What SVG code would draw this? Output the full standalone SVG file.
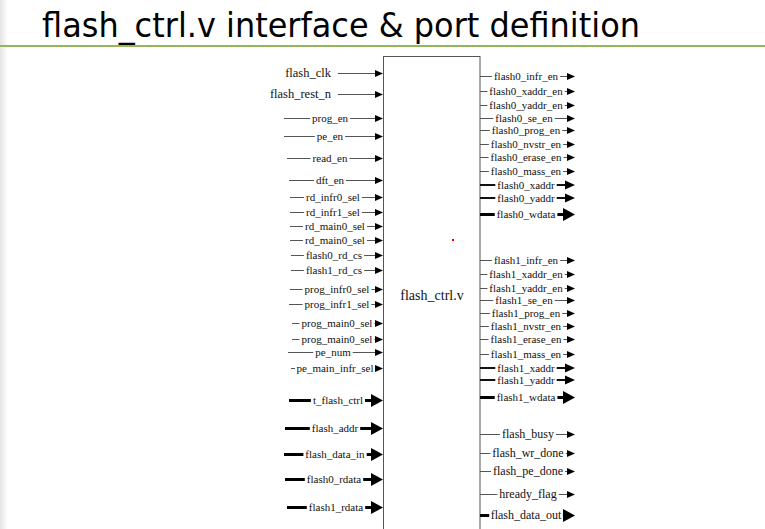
<svg xmlns="http://www.w3.org/2000/svg" width="765" height="529" viewBox="0 0 765 529">
<style>
.t{font-family:'Liberation Serif','Times New Roman',serif;font-size:11px;fill:#111;text-anchor:middle}
.tb{font-size:12px}
.tl{font-family:'Liberation Serif','Times New Roman',serif;font-size:12.5px;fill:#111;text-anchor:end}
.g{fill:#fff}
.w1{stroke:#555;stroke-width:1;fill:none;marker-end:url(#as)}
.w2{stroke:#111;stroke-width:2;fill:none;marker-end:url(#am)}
.w3{stroke:#000;stroke-width:3;fill:none;marker-end:url(#al)}
</style>
<defs>
<linearGradient id="edge" x1="0" y1="0" x2="1" y2="0"><stop offset="0" stop-color="#e4e4e4"/><stop offset="1" stop-color="#fff"/></linearGradient>
<marker id="as" markerUnits="userSpaceOnUse" markerWidth="9" markerHeight="8" refX="0" refY="4" orient="auto"><path d="M0,0.5 L8,4 L0,7.5 z" fill="#000"/></marker>
<marker id="am" markerUnits="userSpaceOnUse" markerWidth="11" markerHeight="10" refX="0" refY="5" orient="auto"><path d="M0,0.5 L10,5 L0,9.5 z" fill="#000"/></marker>
<marker id="al" markerUnits="userSpaceOnUse" markerWidth="13" markerHeight="14" refX="0" refY="7" orient="auto"><path d="M0,0.5 L12,7 L0,13.5 z" fill="#000"/></marker>
</defs>
<rect width="765" height="529" fill="#fff"/>
<rect x="0" y="0" width="8" height="529" fill="url(#edge)"/>
<g id="title">
<text x="42" y="37" font-family="'DejaVu Sans',Verdana,sans-serif" font-size="33" fill="#000" textLength="598" lengthAdjust="spacingAndGlyphs">flash_ctrl.v interface &amp; port definition</text>
<rect x="0" y="45" width="765" height="2" fill="#92b65a"/>
</g>
<g id="flash_ctrl">
<rect x="383.5" y="56.5" width="96.5" height="490" fill="#fff" stroke="#555" stroke-width="1"/>
<text x="432" y="300" font-family="'Liberation Serif','Times New Roman',serif" font-size="14" fill="#111" text-anchor="middle">flash_ctrl.v</text>
<rect x="452" y="239" width="2" height="2" fill="#e00"/>
</g>
<g id="connectors">
<path class="w1" d="M338,73.5H375"/><text class="tl" x="331" y="77">flash_clk</text>
<path class="w1" d="M338,94.5H375"/><text class="tl" x="331" y="98">flash_rest_n</text>
<path class="w1" d="M284,118.5H375"/><rect class="g" x="310" y="115.5" width="40" height="6"/><text class="t" x="330" y="122">prog_en</text>
<path class="w1" d="M284,136.5H375"/><rect class="g" x="314.8" y="133.5" width="30.3" height="6"/><text class="t" x="330" y="140">pe_en</text>
<path class="w1" d="M287,158.5H375"/><rect class="g" x="310.6" y="155.5" width="38.8" height="6"/><text class="t" x="330" y="162">read_en</text>
<path class="w1" d="M289,180.5H375"/><rect class="g" x="314" y="177.5" width="32" height="6"/><text class="t" x="330" y="184">dft_en</text>
<path class="w1" d="M290,197.5H375"/><rect class="g" x="304.1" y="194.5" width="57.8" height="6"/><text class="t" x="333" y="201">rd_infr0_sel</text>
<path class="w1" d="M290,212.5H375"/><rect class="g" x="304.1" y="209.5" width="57.8" height="6"/><text class="t" x="333" y="216">rd_infr1_sel</text>
<path class="w1" d="M290,226.5H375"/><rect class="g" x="303" y="223.5" width="64" height="6"/><text class="t" x="335" y="230">rd_main0_sel</text>
<path class="w1" d="M290,240.5H375"/><rect class="g" x="303" y="237.5" width="64" height="6"/><text class="t" x="335" y="244">rd_main0_sel</text>
<path class="w1" d="M291,255.5H375"/><rect class="g" x="303.9" y="252.5" width="60.2" height="6"/><text class="t" x="334" y="259">flash0_rd_cs</text>
<path class="w1" d="M291,270.5H375"/><rect class="g" x="303.9" y="267.5" width="60.2" height="6"/><text class="t" x="334" y="274">flash1_rd_cs</text>
<path class="w1" d="M290,289.5H375"/><rect class="g" x="302.6" y="286.5" width="68.8" height="6"/><text class="t" x="337" y="293">prog_infr0_sel</text>
<path class="w1" d="M289,304.5H375"/><rect class="g" x="302.6" y="301.5" width="68.8" height="6"/><text class="t" x="337" y="308">prog_infr1_sel</text>
<path class="w1" d="M292,323.5H375"/><rect class="g" x="299.5" y="320.5" width="75" height="6"/><text class="t" x="337" y="327">prog_main0_sel</text>
<path class="w1" d="M292,339.5H375"/><rect class="g" x="299.5" y="336.5" width="75" height="6"/><text class="t" x="337" y="343">prog_main0_sel</text>
<path class="w1" d="M288,352.5H375"/><rect class="g" x="313.3" y="349.5" width="39.4" height="6"/><text class="t" x="333" y="356">pe_num</text>
<path class="w1" d="M291,368.5H375"/><rect class="g" x="295" y="365.5" width="80" height="6"/><text class="t" x="335" y="372">pe_main_infr_sel</text>
<path class="w3" d="M289,400.5H371"/><rect class="g" x="310.9" y="396.5" width="54.1" height="8"/><text class="t" x="338" y="404">t_flash_ctrl</text>
<path class="w3" d="M285,428.5H371"/><rect class="g" x="309.8" y="424.5" width="50.4" height="8"/><text class="t" x="335" y="432">flash_addr</text>
<path class="w3" d="M284,454.5H371"/><rect class="g" x="303.4" y="450.5" width="63.3" height="8"/><text class="t" x="335" y="458">flash_data_in</text>
<path class="w3" d="M285,479.5H371"/><rect class="g" x="304.8" y="475.5" width="58.4" height="8"/><text class="t" x="334" y="483">flash0_rdata</text>
<path class="w3" d="M287,507.5H371"/><rect class="g" x="306.8" y="503.5" width="58.4" height="8"/><text class="t" x="336" y="511">flash1_rdata</text>
<path class="w1" d="M480,76.5H567"/><rect class="g" x="491.9" y="73.5" width="68.2" height="6"/><text class="t" x="526" y="80">flash0_infr_en</text>
<path class="w1" d="M480,91.5H567"/><rect class="g" x="487.4" y="88.5" width="77.3" height="6"/><text class="t" x="526" y="95">flash0_xaddr_en</text>
<path class="w1" d="M480,105.5H567"/><rect class="g" x="487.4" y="102.5" width="77.3" height="6"/><text class="t" x="526" y="109">flash0_yaddr_en</text>
<path class="w1" d="M480,118.5H567"/><rect class="g" x="493.3" y="115.5" width="61.4" height="6"/><text class="t" x="524" y="122">flash0_se_en</text>
<path class="w1" d="M480,130.5H567"/><rect class="g" x="489.8" y="127.5" width="72.4" height="6"/><text class="t" x="526" y="134">flash0_prog_en</text>
<path class="w1" d="M480,144.5H567"/><rect class="g" x="488.9" y="141.5" width="74.3" height="6"/><text class="t" x="526" y="148">flash0_nvstr_en</text>
<path class="w1" d="M480,157.5H567"/><rect class="g" x="488.6" y="154.5" width="74.9" height="6"/><text class="t" x="526" y="161">flash0_erase_en</text>
<path class="w1" d="M480,171.5H567"/><rect class="g" x="488.9" y="168.5" width="74.3" height="6"/><text class="t" x="526" y="175">flash0_mass_en</text>
<path class="w2" d="M480,185H565"/><rect class="g" x="495.3" y="181.5" width="61.4" height="7"/><text class="t" x="526" y="189">flash0_xaddr</text>
<path class="w2" d="M480,198H565"/><rect class="g" x="495.3" y="194.5" width="61.4" height="7"/><text class="t" x="526" y="202">flash0_yaddr</text>
<path class="w3" d="M480,214.5H563"/><rect class="g" x="494.7" y="210.5" width="62.7" height="8"/><text class="t" x="526" y="218">flash0_wdata</text>
<path class="w1" d="M480,260.5H567"/><rect class="g" x="491.9" y="257.5" width="68.2" height="6"/><text class="t" x="526" y="264">flash1_infr_en</text>
<path class="w1" d="M480,274.5H567"/><rect class="g" x="487.4" y="271.5" width="77.3" height="6"/><text class="t" x="526" y="278">flash1_xaddr_en</text>
<path class="w1" d="M480,288.5H567"/><rect class="g" x="487.4" y="285.5" width="77.3" height="6"/><text class="t" x="526" y="292">flash1_yaddr_en</text>
<path class="w1" d="M480,300.5H567"/><rect class="g" x="493.3" y="297.5" width="61.4" height="6"/><text class="t" x="524" y="304">flash1_se_en</text>
<path class="w1" d="M480,313.5H567"/><rect class="g" x="489.8" y="310.5" width="72.4" height="6"/><text class="t" x="526" y="317">flash1_prog_en</text>
<path class="w1" d="M480,326.5H567"/><rect class="g" x="488.9" y="323.5" width="74.3" height="6"/><text class="t" x="526" y="330">flash1_nvstr_en</text>
<path class="w1" d="M480,339.5H567"/><rect class="g" x="488.6" y="336.5" width="74.9" height="6"/><text class="t" x="526" y="343">flash1_erase_en</text>
<path class="w1" d="M480,354.5H567"/><rect class="g" x="488.9" y="351.5" width="74.3" height="6"/><text class="t" x="526" y="358">flash1_mass_en</text>
<path class="w2" d="M480,368H565"/><rect class="g" x="495.3" y="364.5" width="61.4" height="7"/><text class="t" x="526" y="372">flash1_xaddr</text>
<path class="w2" d="M480,380H565"/><rect class="g" x="495.3" y="376.5" width="61.4" height="7"/><text class="t" x="526" y="384">flash1_yaddr</text>
<path class="w3" d="M480,397.5H563"/><rect class="g" x="494.7" y="393.5" width="62.7" height="8"/><text class="t" x="526" y="401">flash1_wdata</text>
<path class="w1" d="M480,434.5H567"/><rect class="g" x="500" y="431.5" width="56" height="6"/><text class="t tb" x="528" y="438">flash_busy</text>
<path class="w1" d="M480,453.5H567"/><rect class="g" x="490.4" y="450.5" width="75.3" height="6"/><text class="t tb" x="528" y="457">flash_wr_done</text>
<path class="w1" d="M480,471.5H567"/><rect class="g" x="491" y="468.5" width="74" height="6"/><text class="t tb" x="528" y="475">flash_pe_done</text>
<path class="w1" d="M480,494.5H567"/><rect class="g" x="497.4" y="491.5" width="61.3" height="6"/><text class="t tb" x="528" y="498">hready_flag</text>
<path class="w3" d="M480,515.5H563"/><rect class="g" x="489.2" y="511.5" width="73.7" height="8"/><text class="t tb" x="526" y="519">flash_data_out</text>
</g>
</svg>
